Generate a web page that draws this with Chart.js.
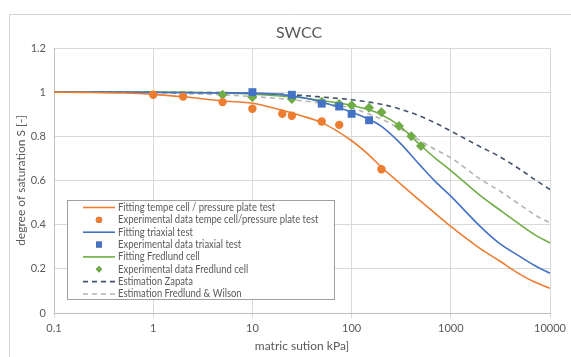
<!DOCTYPE html>
<html>
<head>
<meta charset="utf-8">
<script src="https://cdn.jsdelivr.net/npm/chart.js@4"></script>
<style>
  html, body { margin: 0; padding: 0; background: #fff; }
  #wrap { width: 571px; height: 357px; }
</style>
</head>
<body>
<div id="wrap"><canvas id="chart-swcc" width="571" height="357"></canvas></div>
<script>
/* ===== SWCC chart ===== */

// x positions (kPa) at which the fitted / estimated curves were read off
const suctionCurve = [0.1, 0.2, 0.5, 1, 2, 5, 10, 20, 30, 50, 100, 150, 200, 300, 500, 700, 1000, 2000, 3000, 5000, 7000, 10000];

const tempeFit    = [1.0, 0.999, 0.996, 0.99, 0.979, 0.96, 0.95, 0.918, 0.895, 0.862, 0.78, 0.715, 0.66, 0.591, 0.505, 0.45, 0.392, 0.29, 0.24, 0.175, 0.14, 0.112];
const triaxialFit = [1.0, 1.0, 1.0, 0.999, 0.998, 0.997, 0.995, 0.989, 0.978, 0.955, 0.909, 0.877, 0.845, 0.775, 0.665, 0.595, 0.529, 0.39, 0.32, 0.255, 0.215, 0.18];
const fredlundFit = [1.0, 1.0, 1.0, 1.0, 0.999, 0.996, 0.991, 0.982, 0.976, 0.962, 0.94, 0.92, 0.898, 0.85, 0.758, 0.70, 0.645, 0.53, 0.472, 0.40, 0.355, 0.317];
const zapataEst   = [1.0, 1.0, 1.0, 1.0, 0.999, 0.998, 0.995, 0.99, 0.986, 0.978, 0.966, 0.955, 0.945, 0.925, 0.89, 0.86, 0.824, 0.752, 0.712, 0.65, 0.605, 0.559];
const fwEst       = [1.0, 1.0, 0.999, 0.997, 0.994, 0.988, 0.98, 0.97, 0.962, 0.95, 0.928, 0.90, 0.878, 0.838, 0.778, 0.74, 0.703, 0.605, 0.557, 0.49, 0.445, 0.408];

// experimental points
const tempeX    = [1, 2, 5, 10, 20, 25, 50, 75, 200];
const tempeY    = [0.988, 0.98, 0.955, 0.925, 0.902, 0.893, 0.867, 0.852, 0.651];
const triaxialX = [10, 25, 50, 75, 100, 150];
const triaxialY = [1.0, 0.988, 0.948, 0.935, 0.902, 0.873];
const fredlundX = [5, 10, 25, 50, 75, 100, 150, 200, 300, 400, 500];
const fredlundY = [0.988, 0.977, 0.969, 0.957, 0.946, 0.941, 0.929, 0.909, 0.847, 0.80, 0.756];

const xTicks = [0.1, 1, 10, 100, 1000, 10000];

const COLORS = {
  tempe: '#ED7D31',
  triaxial: '#4472C4',
  fredlund: '#70AD47',
  zapata: '#44546A',
  fw: '#B4B4B4',
};
const TEXT = '#595959';
const GRID = '#d9d9d9';
const FONT = "Lato, 'Open Sans', sans-serif";

function pairs(xs, ys) {
  return xs.map((x, i) => ({ x, y: ys[i] }));
}

function curve(label, ys, color, dash) {
  return {
    label,
    data: pairs(suctionCurve, ys),
    showLine: true,
    borderColor: color,
    backgroundColor: color,
    borderWidth: 1.6,
    borderDash: dash || [],
    pointRadius: 0,
    cubicInterpolationMode: 'monotone',
    order: 2,
  };
}

function points(label, xs, ys, color, style, r) {
  return {
    label,
    data: pairs(xs, ys),
    showLine: false,
    pointStyle: style,
    pointRadius: r,
    pointBackgroundColor: color,
    pointBorderColor: color,
    pointBorderWidth: 0,
    backgroundColor: color,
    borderColor: color,
    order: 1,
  };
}

const datasets = [
  curve('Fitting tempe cell / pressure plate test', tempeFit, COLORS.tempe),
  points('Experimental data tempe cell/pressure plate test', tempeX, tempeY, COLORS.tempe, 'circle', 4.2),
  curve('Fitting triaxial test', triaxialFit, COLORS.triaxial),
  points('Experimental data triaxial test', triaxialX, triaxialY, COLORS.triaxial, 'rect', 5.6),
  curve('Fitting Fredlund cell', fredlundFit, COLORS.fredlund),
  points('Experimental data Fredlund cell', fredlundX, fredlundY, COLORS.fredlund, 'rectRot', 5),
  curve('Estimation Zapata', zapataEst, COLORS.zapata, [5, 4]),
  curve('Estimation Fredlund & Wilson', fwEst, COLORS.fw, [5, 4]),
];

/* ---------- plugins ---------- */

const framePlugin = {
  id: 'frame',
  beforeDraw(chart) {
    const { ctx, width, height } = chart;
    ctx.save();
    ctx.fillStyle = '#fff';
    ctx.fillRect(0, 0, width, height);
    ctx.strokeStyle = '#d0d0d0';
    ctx.lineWidth = 1;
    ctx.beginPath();
    ctx.moveTo(9.5, height);
    ctx.lineTo(9.5, 14.5);
    ctx.lineTo(width, 14.5);
    ctx.stroke();
    ctx.restore();
  },
  afterDraw(chart) {
    const { ctx } = chart;
    ctx.save();
    ctx.font = '16px ' + FONT;
    ctx.fillStyle = TEXT;
    ctx.textAlign = 'center';
    ctx.textBaseline = 'middle';
    ctx.fillText('SWCC', 299, 33);
    ctx.restore();
  },
};

const legendPlugin = {
  id: 'boxLegend',
  afterDraw(chart) {
    const { ctx } = chart;
    const box = { x: 67.5, y: 200.5, w: 267, h: 99 };
    ctx.save();
    ctx.fillStyle = '#fff';
    ctx.fillRect(box.x, box.y, box.w, box.h);
    ctx.strokeStyle = '#a0a0a0';
    ctx.lineWidth = 1;
    ctx.strokeRect(box.x, box.y, box.w, box.h);
    ctx.font = '10.5px ' + FONT;
    ctx.textBaseline = 'middle';
    chart.data.datasets.forEach((ds, i) => {
      const y = 207.5 + i * 12.35;
      if (ds.showLine) {
        ctx.strokeStyle = ds.borderColor;
        ctx.lineWidth = 1.6;
        ctx.setLineDash(ds.borderDash);
        ctx.beginPath();
        ctx.moveTo(83, y);
        ctx.lineTo(115, y);
        ctx.stroke();
        ctx.setLineDash([]);
      } else {
        Chart.helpers.drawPoint(ctx, {
          pointStyle: ds.pointStyle,
          radius: ds.pointStyle === 'rect' ? 4.2 : 3.2,
          borderWidth: 0,
        }, 99, y);
        ctx.fillStyle = ds.pointBackgroundColor;
        ctx.fill();
      }
      ctx.fillStyle = TEXT;
      // narrow the text a little, the original used a condensed face
      const w = ctx.measureText(ds.label).width;
      ctx.fillText(ds.label, 118, y, w * 0.9);
    });
    ctx.restore();
  },
};

/* ---------- chart ---------- */

new Chart(document.getElementById('chart-swcc'), {
  type: 'scatter',
  data: { datasets },
  options: {
    responsive: false,
    animation: false,
    layout: { padding: { left: 10, right: 21, top: 48, bottom: 0 } },
    scales: {
      x: {
        type: 'logarithmic',
        min: 0.1,
        max: 10000,
        afterBuildTicks(scale) {
          scale.ticks = xTicks.map(v => ({ value: v }));
        },
        afterFit(scale) { scale.height = 44; },
        grid: { color: GRID, tickLength: 5, drawTicks: true },
        border: { color: '#bfbfbf' },
        ticks: {
          color: TEXT,
          font: { family: FONT, size: 11 },
          padding: 4,
          maxRotation: 0,
          callback: v => String(v),
        },
        title: {
          display: true,
          text: 'matric sution kPa]',
          color: TEXT,
          font: { family: FONT, size: 12 },
          padding: { top: 0, bottom: 4 },
        },
      },
      y: {
        min: 0,
        max: 1.2,
        afterFit(scale) { scale.width = 44; },
        grid: { color: GRID, drawTicks: false },
        border: { color: '#bfbfbf' },
        ticks: {
          stepSize: 0.2,
          color: TEXT,
          font: { family: FONT, size: 11 },
          padding: 8,
          callback: v => String(Number(v.toFixed(1))),
        },
        title: {
          display: true,
          text: 'degree of saturation S [-]',
          color: TEXT,
          font: { family: FONT, size: 12 },
          padding: { top: 4, bottom: 0 },
        },
      },
    },
    plugins: {
      legend: { display: false },
      title: { display: false },
      tooltip: { enabled: false },
    },
  },
  plugins: [framePlugin, legendPlugin],
});
</script>
</body>
</html>
